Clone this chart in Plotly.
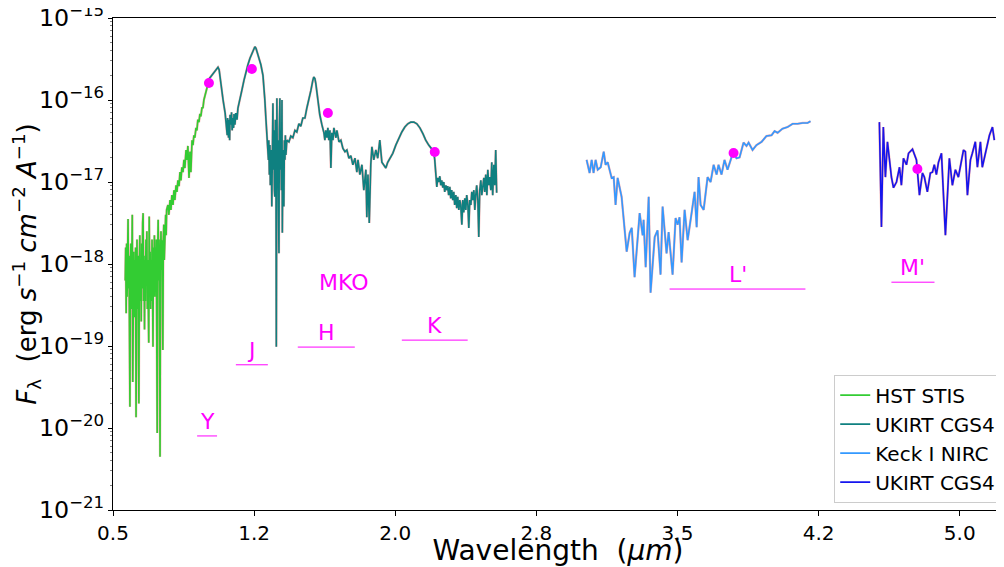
import numpy as np
import plotly.graph_objects as go

# ---------------- data (wavelength in micron, log10 of F_lambda) ----------------
stis_wave = [0.565,0.5675,0.570,0.5725,0.575,0.5775,0.580,0.5825,0.585,0.5875,
             0.590,0.5925,0.595,0.5975,0.600,0.6025,0.605,0.6075,0.610,0.6125,
             0.615,0.6175,0.620,0.6225,0.625,0.6275,0.630,0.6325,0.635,0.6375,
             0.640,0.6425,0.645,0.6475,0.650,0.6525,0.655,0.6575,0.660,0.6625,
             0.665,0.6675,0.670,0.6725,0.675,0.6775,0.680,0.6825,0.685,0.6875,
             0.690,0.6925,0.695,0.6975,0.700,0.7025,0.705,0.7075,0.710,0.7125,
             0.715,0.7175,0.720,0.7225,0.725,0.7275,0.730,0.7325,0.735,0.7375,
             0.740,0.7425,0.745,0.7475,0.750,0.7525,0.755,0.7575,0.760,0.7625,
             0.765,0.7675,0.770,0.7725,0.775,0.7775,0.780,0.7825,0.785,
             0.792,0.797,0.803,0.808,0.813,0.819,0.824,0.829,0.835,0.840,
             0.845,0.851,0.856,0.861,0.866,0.872,0.877,0.882,0.888,0.893,
             0.898,0.904,0.909,0.914,0.920,0.925,0.930,0.935,0.941,0.946,
             0.951,0.957,0.962,0.967,0.973,0.978,0.983,0.989,0.994,0.999,
             1.005,1.010]
stis_logflux = [-18.2,-17.8,-18.6,-17.75,-18.4,-17.9,-17.45,-18.3,-17.9,-18.8,
                -19.74,-18.1,-17.75,-18.55,-18.0,-17.4,-19.44,-18.3,-17.85,-18.65,
                -17.95,-18.45,-17.8,-19.87,-18.2,-17.7,-18.55,-17.9,-18.45,-19.70,
                -18.1,-17.65,-18.45,-17.95,-18.7,-17.75,-18.3,-17.5,-17.38,-18.45,
                -17.9,-18.8,-17.95,-18.45,-17.7,-18.2,-17.6,-18.55,-17.95,-18.3,
                -18.96,-17.42,-18.3,-17.85,-18.55,-17.95,-18.45,-17.7,-18.2,-19.01,
                -17.8,-18.3,-17.65,-18.4,-17.8,-18.2,-17.7,-18.5,-20.06,-17.85,
                -17.46,-18.2,-17.7,-18.44,-20.35,-17.95,-17.6,-18.07,-17.71,-18.32,
                -19.05,-17.71,-17.52,-17.95,-17.59,-17.77,-17.4,-17.65,-17.34,
                -17.28,-17.40,-17.22,-17.34,-17.16,-17.28,-17.10,-17.22,-17.04,-17.12,
                -16.98,-17.05,-16.88,-16.98,-16.82,-16.88,-16.73,-16.83,-16.61,-16.73,
                -16.56,-16.95,-16.63,-16.88,-16.49,-16.55,-16.43,-16.46,-16.34,-16.37,
                -16.24,-16.27,-16.17,-16.20,-16.09,-16.10,-16.00,-15.94,-15.90,-15.85,
                -15.80,-15.76]

cgs4_wave = [1.005,1.021,1.037,1.053,1.058,1.064,1.074,1.085,1.096,1.101,
             1.107,1.109,1.112,1.114,1.117,1.120,1.122,1.128,1.130,1.133,
             1.138,1.141,1.143,1.148,1.153,1.159,1.164,1.175,1.185,1.196,
             1.206,1.217,1.228,1.238,1.249,1.254,1.260,1.265,1.275,1.286,
             1.297,1.302,1.307,1.313,1.318,1.323,
             1.326,1.328,1.331,1.334,1.336,1.339,1.342,1.344,1.347,1.350,
             1.352,1.355,1.358,1.360,1.363,1.366,1.368,1.371,1.374,1.376,
             1.379,1.382,1.384,1.387,1.390,1.392,1.395,1.398,1.400,1.403,
             1.406,1.408,1.411,1.414,1.416,1.419,1.424,
             1.435,1.445,1.456,1.467,1.477,1.488,1.498,1.509,1.520,1.530,
             1.541,1.552,1.562,1.567,1.573,1.578,1.589,1.599,1.610,1.621,
             1.626,1.631,1.637,1.642,1.647,1.653,1.658,1.663,1.669,1.674,
             1.685,1.690,1.701,1.711,1.722,1.733,1.743,1.754,1.764,1.775,
             1.786,1.796,1.802,1.812,1.823,1.833,1.844,1.849,1.855,1.862,
             1.870,1.876,1.886,1.897,1.907,1.918,1.929,1.939,1.950,1.960,
             1.971,
             1.987,2.003,2.019,2.035,2.051,2.067,2.083,2.099,2.115,2.131,
             2.147,2.162,2.178,2.194,2.205,2.210,2.215,2.221,2.226,2.231,
             2.237,2.242,2.247,2.253,2.258,2.263,2.269,2.274,2.279,2.284,
             2.290,2.295,2.300,2.306,2.311,2.316,2.322,2.327,2.332,2.338,
             2.343,2.348,2.354,2.359,2.364,2.370,2.375,2.380,2.386,2.391,
             2.396,2.402,2.407,2.412,2.418,2.423,2.428,2.433,2.439,2.444,
             2.449,2.455,2.460,2.465,2.471,2.476,2.481,2.487,2.492,2.497,
             2.502,2.508,2.513,2.518,2.524,2.529,2.534,2.539]
cgs4_logflux = [-15.76,-15.71,-15.66,-15.61,-15.60,-15.63,-15.82,-16.00,-16.16,-16.30,
                -16.43,-16.22,-16.37,-16.46,-16.24,-16.49,-16.18,-16.30,-16.15,-16.37,
                -16.22,-16.34,-16.17,-16.30,-16.16,-16.24,-16.10,-16.00,-15.88,-15.76,
                -15.66,-15.57,-15.49,-15.43,-15.37,-15.35,-15.37,-15.41,-15.49,-15.57,
                -15.70,-15.82,-16.00,-16.24,-16.43,-16.61,
                -16.73,-16.49,-16.91,-16.55,-17.04,-16.61,-16.73,-17.30,-16.49,-16.04,
                -16.85,-16.37,-17.10,-17.18,-16.24,-16.73,-19.01,-15.98,-16.98,-16.49,
                -17.22,-17.87,-16.37,-15.98,-16.85,-16.55,-17.10,-16.00,-17.62,-16.61,
                -16.85,-17.30,-16.49,-16.73,-16.43,-16.67,-16.49,
                -16.51,-16.44,-16.46,-16.37,-16.39,-16.29,-16.32,-16.22,-16.22,-16.10,
                -16.00,-15.88,-15.76,-15.72,-15.74,-15.80,-16.00,-16.18,-16.30,-16.40,
                -16.49,-16.37,-16.46,-16.34,-16.49,-16.37,-16.83,-16.40,-16.49,-16.34,
                -16.46,-16.37,-16.51,-16.49,-16.59,-16.63,-16.61,-16.71,-16.68,-16.79,
                -16.71,-16.88,-16.73,-16.91,-16.79,-17.10,-16.85,-17.43,-16.91,-17.50,
                -16.79,-16.57,-16.73,-16.61,-16.71,-16.49,-16.76,-16.79,-16.83,-16.76,
                -16.71,
                -16.65,-16.55,-16.46,-16.39,-16.33,-16.29,-16.27,-16.27,-16.29,-16.34,
                -16.41,-16.49,-16.55,-16.59,-16.63,-16.73,-16.91,-17.06,-16.95,-17.00,
                -16.93,-17.04,-16.98,-17.07,-17.00,-17.12,-17.04,-17.10,-17.05,-17.16,
                -17.06,-17.20,-17.10,-17.22,-17.12,-17.28,-17.16,-17.32,-17.18,-17.34,
                -17.22,-17.28,-17.52,-17.22,-17.37,-17.20,-17.34,-17.16,-17.28,-17.56,
                -17.22,-17.28,-17.12,-17.22,-17.10,-17.34,-17.16,-17.04,-17.22,-17.67,
                -17.10,-16.98,-17.16,-17.06,-16.95,-17.12,-16.91,-17.16,-16.85,-17.04,
                -16.94,-17.10,-16.76,-17.16,-16.79,-17.04,-16.61,-17.13]

nirc_wave = [3.017,3.033,3.044,3.054,3.065,3.076,3.092,3.108,3.118,3.129,
             3.150,3.161,3.171,3.182,3.203,3.230,3.246,3.257,3.272,3.299,
             3.315,3.320,3.331,3.347,3.357,3.379,3.394,3.410,3.421,3.442,
             3.453,3.474,3.490,3.501,3.511,3.522,3.538,3.554,3.575,3.591,
             3.602,3.612,3.623,3.639,3.660,3.676,3.692,3.708,3.718,3.734,
             3.750,3.766,3.787,3.798,3.814,3.830,3.851,3.867,3.878,3.899,
             3.920,3.947,3.973,4.000,4.016,4.032,4.058,4.085,4.112,4.138,
             4.165,4.191,4.207]
nirc_logflux = [-16.73,-16.89,-16.73,-16.89,-16.73,-16.85,-16.82,-16.63,-16.79,-16.76,
                -16.95,-16.94,-17.28,-16.95,-17.18,-17.85,-17.62,-17.56,-18.16,-17.38,
                -17.65,-17.46,-18.04,-17.18,-18.35,-17.67,-17.59,-18.13,-17.30,-17.87,
                -17.61,-18.13,-17.44,-17.52,-17.43,-17.98,-17.34,-17.71,-17.38,-17.12,
                -17.55,-16.94,-17.28,-17.34,-16.94,-17.00,-16.79,-16.91,-16.79,-16.91,
                -16.73,-16.85,-16.70,-16.66,-16.71,-16.70,-16.52,-16.56,-16.52,-16.61,
                -16.55,-16.51,-16.44,-16.43,-16.38,-16.40,-16.35,-16.33,-16.29,-16.29,
                -16.28,-16.28,-16.26]

mband_wave = [4.573,4.584,4.594,4.605,4.616,4.637,4.648,4.664,4.680,4.690,
              4.701,4.717,4.728,4.749,4.770,4.786,4.802,4.812,4.828,4.844,
              4.855,4.865,4.876,4.887,4.903,4.924,4.945,4.961,4.977,4.993,
              5.020,5.030,5.041,5.057,5.067,5.083,5.094,5.110,5.120,5.142,
              5.158,5.174,5.184]
mband_logflux = [-16.27,-17.55,-16.33,-16.94,-16.51,-16.94,-17.07,-17.00,-16.82,-17.04,
                 -16.71,-16.79,-16.65,-16.60,-16.73,-17.16,-16.89,-16.94,-17.12,-16.89,
                 -16.88,-16.79,-16.91,-16.76,-16.65,-17.65,-16.71,-17.04,-16.85,-16.94,
                 -16.61,-16.63,-17.16,-16.73,-16.65,-16.51,-16.82,-16.51,-16.82,-16.59,
                 -16.43,-16.33,-16.49]

# MKO photometry
phot_wave = [1.010, 1.238, 1.642, 2.210, 3.798, 4.775]
phot_flux = [1.61e-16, 2.39e-16, 6.93e-17, 2.32e-17, 2.26e-17, 1.44e-17]

# MKO filter bandpasses
band_names = ["Y", "J", "H", "K", "L'", "M'"]
band_lo = [0.947, 1.153, 1.482, 2.035, 3.458, 4.637]
band_hi = [1.053, 1.323, 1.785, 2.385, 4.180, 4.866]
band_level = [8.0e-21, 5.9e-20, 9.7e-20, 1.18e-19, 4.95e-19, 6.0e-19]

series_names = ["HST STIS", "UKIRT CGS4", "Keck I NIRC", "UKIRT CGS4"]
series_colors = ["#33cc33", "#0f8080", "#3399ff", "#1515ee"]

x_tickvals = [0.5, 1.25, 2.0, 2.75, 3.5, 4.25, 5.0]
x_ticktext = ["0.5", "1.2", "2.0", "2.8", "3.5", "4.2", "5.0"]

# ---------------- figure ----------------
FONT = "DejaVu Sans"
fig = go.Figure()

spectra = [(stis_wave, stis_logflux), (cgs4_wave, cgs4_logflux),
           (nirc_wave, nirc_logflux), (mband_wave, mband_logflux)]

# faint red model underlay
for w, lf in spectra:
    fig.add_trace(go.Scatter(x=w, y=np.power(10.0, np.array(lf)), mode="lines",
                             line=dict(color="rgba(235,70,70,0.45)", width=2.3),
                             showlegend=False, hoverinfo="skip"))

for (w, lf), name, col in zip(spectra, series_names, series_colors):
    fig.add_trace(go.Scatter(x=w, y=np.power(10.0, np.array(lf)), mode="lines",
                             line=dict(color=col, width=1.6), name=name))

# filter bars
for lo, hi, lev in zip(band_lo, band_hi, band_level):
    fig.add_trace(go.Scatter(x=[lo, hi], y=[lev, lev], mode="lines",
                             line=dict(color="#ff00ff", width=1),
                             showlegend=False, hoverinfo="skip"))

fig.add_trace(go.Scatter(x=phot_wave, y=phot_flux, mode="markers",
                         marker=dict(color="#ff00ff", size=10),
                         showlegend=False))

for nm, lo, hi, lev in zip(band_names, band_lo, band_hi, band_level):
    fig.add_annotation(x=(lo + hi) / 2, y=np.log10(lev), text=nm,
                       showarrow=False, yanchor="bottom", yshift=0,
                       font=dict(family=FONT, size=22, color="#ff00ff"))

fig.add_annotation(x=1.73, y=np.log10(6.0e-19), text="MKO", showarrow=False,
                   font=dict(family=FONT, size=22, color="#ff00ff"))

# page body has an 8px margin: shrink the figure so the plot lands where intended
fig.update_layout(
    width=996, height=559,
    margin=dict(l=105, r=1, t=10, b=57, autoexpand=False),
    paper_bgcolor="white", plot_bgcolor="white",
    font=dict(family=FONT, color="black"),
    legend=dict(x=0.998, y=0.015, xanchor="right", yanchor="bottom",
                bgcolor="white", bordercolor="#cccccc", borderwidth=1,
                font=dict(family=FONT, size=20), tracegroupgap=0),
    showlegend=True,
)
fig.update_xaxes(range=[0.5, 5.23], tickvals=x_tickvals, ticktext=x_ticktext,
                 ticks="outside", ticklen=5, tickcolor="black",
                 showline=True, linecolor="black", linewidth=1, mirror=True,
                 showgrid=False, zeroline=False, automargin=False,
                 tickfont=dict(family=FONT, size=20),
                 title=dict(text="Wavelength  (<i>μm</i>)",
                            font=dict(family=FONT, size=28), standoff=4))
fig.update_yaxes(type="log", range=[-21, -15], dtick=1, exponentformat="power",
                 ticks="outside", ticklen=4, tickcolor="black",
                 ticklabeloverflow="allow",
                 minor=dict(ticks="outside", ticklen=2, tickcolor="gray"),
                 showline=True, linecolor="black", linewidth=1, mirror=True,
                 showgrid=False, zeroline=False, automargin=False,
                 tickfont=dict(family=FONT, size=19),
                 title=dict(text="<i>F</i><sub>λ</sub>  (erg <i>s</i><sup>−1</sup> <i>cm</i><sup>−2</sup> <i>A</i><sup>−1</sup>)",
                            font=dict(family=FONT, size=26), standoff=2))

fig.write_html("out.html")
